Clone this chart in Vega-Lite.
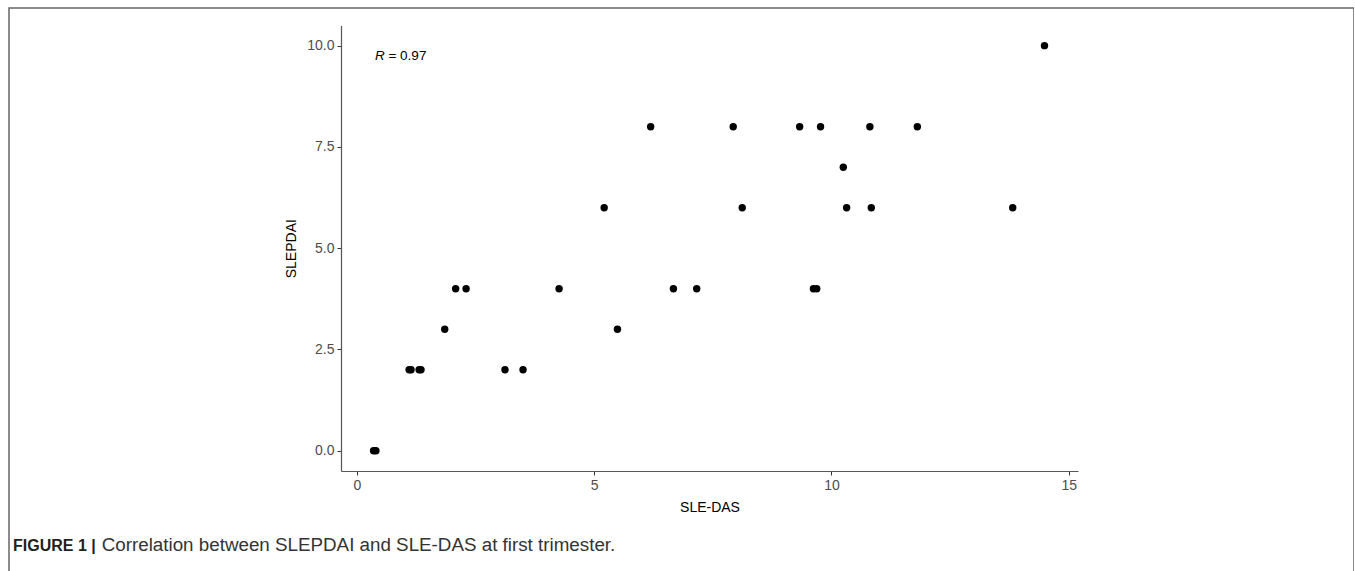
{
  "$schema": "https://vega.github.io/schema/vega-lite/v6.json",
  "width": 1345,
  "height": 600,
  "autosize": {"type": "none"},
  "padding": {"left": 9, "top": 8, "right": 0, "bottom": 0},
  "background": "white",
  "title": {
    "text": "FIGURE 1 |",
    "subtitle": "\u200b\u00a0\u00a0\u00a0\u00a0\u00a0\u00a0\u00a0\u00a0\u00a0\u00a0\u00a0\u00a0\u00a0\u00a0\u00a0\u00a0\u00a0Correlation between SLEPDAI and SLE-DAS at first trimester.",
    "orient": "bottom",
    "anchor": "start",
    "frame": "group",
    "offset": -70,
    "dx": 4,
    "font": "Liberation Sans",
    "fontSize": 16,
    "fontWeight": "bold",
    "color": "#231f20",
    "subtitleFont": "Liberation Sans",
    "subtitleFontSize": 18.8,
    "subtitleColor": "#333333",
    "subtitlePadding": -18
  },
  "config": {
    "view": {"stroke": "#666666", "strokeWidth": 1.5},
    "axis": {
      "grid": false,
      "domainColor": "#555555",
      "domainWidth": 1.2,
      "tickColor": "#333333",
      "tickSize": 4,
      "labelFont": "Liberation Sans",
      "labelFontSize": 14,
      "labelColor": "#4d4d4d",
      "labelPadding": 3,
      "labelFlush": false,
      "titleFont": "Liberation Sans",
      "titleFontSize": 14,
      "titleFontWeight": "normal",
      "titleColor": "#000000",
      "titlePadding": 8
    }
  },
  "layer": [
    {
      "data": {
        "values": [
          {"sledas": 0.35, "slepdai": 0},
          {"sledas": 0.40, "slepdai": 0},
          {"sledas": 1.10, "slepdai": 2},
          {"sledas": 1.14, "slepdai": 2},
          {"sledas": 1.31, "slepdai": 2},
          {"sledas": 1.35, "slepdai": 2},
          {"sledas": 1.85, "slepdai": 3},
          {"sledas": 2.08, "slepdai": 4},
          {"sledas": 2.30, "slepdai": 4},
          {"sledas": 3.12, "slepdai": 2},
          {"sledas": 3.50, "slepdai": 2},
          {"sledas": 4.26, "slepdai": 4},
          {"sledas": 5.21, "slepdai": 6},
          {"sledas": 5.49, "slepdai": 3},
          {"sledas": 6.19, "slepdai": 8},
          {"sledas": 6.67, "slepdai": 4},
          {"sledas": 7.16, "slepdai": 4},
          {"sledas": 7.93, "slepdai": 8},
          {"sledas": 8.12, "slepdai": 6},
          {"sledas": 9.33, "slepdai": 8},
          {"sledas": 9.62, "slepdai": 4},
          {"sledas": 9.69, "slepdai": 4},
          {"sledas": 9.77, "slepdai": 8},
          {"sledas": 10.25, "slepdai": 7},
          {"sledas": 10.32, "slepdai": 6},
          {"sledas": 10.81, "slepdai": 8},
          {"sledas": 10.84, "slepdai": 6},
          {"sledas": 11.81, "slepdai": 8},
          {"sledas": 13.82, "slepdai": 6},
          {"sledas": 14.49, "slepdai": 10}
        ]
      },
      "mark": {"type": "point", "filled": true, "size": 55, "color": "#000000", "opacity": 1},
      "encoding": {
        "x": {
          "field": "sledas",
          "type": "quantitative",
          "scale": {"domain": [-0.336, 15.196], "range": [332, 1069], "nice": false, "zero": false},
          "axis": {"title": "SLE-DAS", "values": [0, 5, 10, 15], "format": "d", "offset": -137}
        },
        "y": {
          "field": "slepdai",
          "type": "quantitative",
          "scale": {"domain": [-0.5, 10.5], "range": [463, 17.4], "nice": false, "zero": false},
          "axis": {"title": "SLEPDAI", "values": [0, 2.5, 5, 7.5, 10], "format": ".1f", "offset": -332}
        }
      }
    },
    {
      "data": {"values": [{"label": "R"}]},
      "mark": {"type": "text", "align": "left", "baseline": "middle", "font": "Liberation Sans", "fontSize": 13.5, "fontStyle": "italic", "color": "#000000"},
      "encoding": {
        "x": {"datum": 0.38, "type": "quantitative"},
        "y": {"datum": 9.75, "type": "quantitative"},
        "text": {"field": "label"}
      }
    },
    {
      "data": {"values": [{"label": "= 0.97"}]},
      "mark": {"type": "text", "align": "left", "baseline": "middle", "dx": 13.5, "font": "Liberation Sans", "fontSize": 13.5, "color": "#000000"},
      "encoding": {
        "x": {"datum": 0.38, "type": "quantitative"},
        "y": {"datum": 9.75, "type": "quantitative"},
        "text": {"field": "label"}
      }
    }
  ]
}
